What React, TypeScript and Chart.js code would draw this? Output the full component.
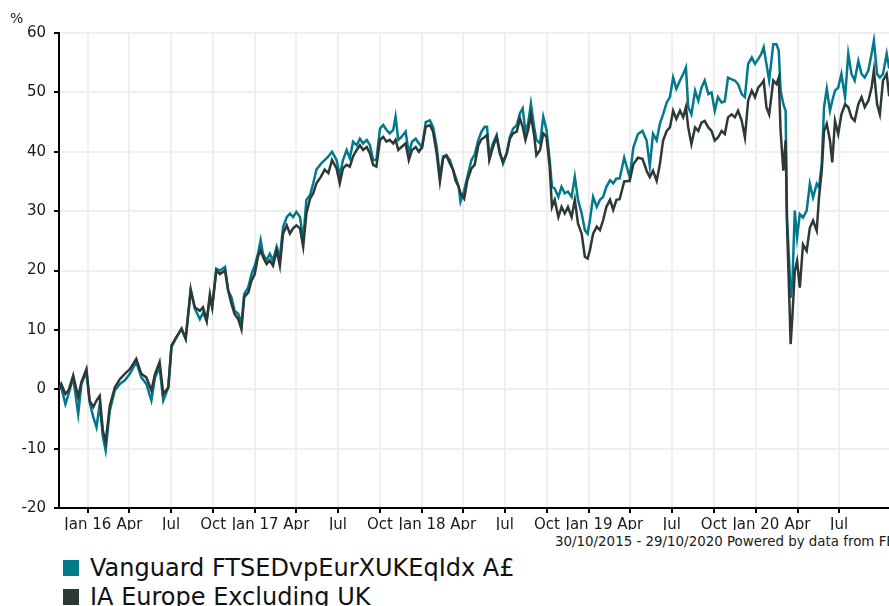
import React, { useEffect, useRef } from "react";
import { Chart, registerables } from "chart.js";

Chart.register(...registerables);

const START_DATE = "2015-10-30";
const END_DATE = "2020-10-29";
const dateRangeText = "30/10/2015 - 29/10/2020 Powered by data from FE";
const yUnit = "%";

const tickDates = [
  "2016-01-01", "2016-04-01", "2016-07-01", "2016-10-01",
  "2017-01-01", "2017-04-01", "2017-07-01", "2017-10-01",
  "2018-01-01", "2018-04-01", "2018-07-01", "2018-10-01",
  "2019-01-01", "2019-04-01", "2019-07-01", "2019-10-01",
  "2020-01-01", "2020-04-01", "2020-07-01",
];
const tickLabels = [
  "Jan 16", "Apr", "Jul", "Oct",
  "Jan 17", "Apr", "Jul", "Oct",
  "Jan 18", "Apr", "Jul", "Oct",
  "Jan 19", "Apr", "Jul", "Oct",
  "Jan 20", "Apr", "Jul",
];
const yMin = -20;
const yMax = 60;
const yStep = 10;

const seriesNames = ["Vanguard FTSEDvpEurXUKEqIdx A£", "IA Europe Excluding UK"];
const seriesColors = ["#00798b", "#2d3936"];

// days since 30/10/2015
const days = [
  0, 5, 14, 21, 31, 42, 49, 60, 67, 75, 82, 89, 96, 102, 111, 122, 133, 144, 155, 169,
  180, 191, 202, 210, 220, 228, 239, 246, 257, 268, 277, 288, 297, 308, 315, 323, 330, 335, 344, 352,
  363, 370, 377, 384, 392, 399, 405, 414, 421, 428, 435, 441, 446, 454, 461, 468, 476, 483, 490, 498,
  505, 512, 519, 527, 534, 541, 549, 556, 563, 573, 581, 589, 597, 607, 614, 621, 629, 636, 643, 651,
  658, 665, 673, 680, 687, 694, 702, 709, 716, 723, 731, 736, 742, 749, 758, 765, 772, 780, 787, 794,
  802, 811, 818, 826, 833, 840, 847, 855, 862, 867, 874, 878, 886, 893, 902, 909, 917, 924, 931, 936,
  941, 949, 957, 964, 971, 979, 986, 993, 1001, 1008, 1014, 1020, 1026, 1032, 1039, 1044, 1052, 1059, 1066, 1073,
  1078, 1084, 1092, 1099, 1106, 1113, 1121, 1128, 1135, 1143, 1150, 1156, 1161, 1168, 1176, 1183, 1190, 1197, 1205, 1212,
  1219, 1226, 1236, 1248, 1256, 1266, 1276, 1285, 1292, 1299, 1307, 1314, 1321, 1329, 1336, 1343, 1350, 1358, 1365, 1371,
  1376, 1383, 1391, 1398, 1405, 1412, 1420, 1427, 1434, 1441, 1449, 1456, 1463, 1471, 1478, 1485, 1493, 1500, 1507, 1515,
  1522, 1529, 1536, 1541, 1547, 1553, 1562, 1569, 1574, 1578, 1584, 1589, 1592, 1597, 1600, 1604, 1609, 1614, 1620, 1627,
  1635, 1642, 1649, 1657, 1662, 1668, 1673, 1679, 1686, 1691, 1697, 1704, 1711, 1719, 1726, 1733, 1740, 1748, 1755, 1762,
  1770, 1777, 1782, 1789, 1795, 1802, 1810, 1815, 1826,
];

const vanguard = [
  0, 0.3, -2.5, -0.8, 2, -4.2, 0.9, 2.9, -2.2, -4.7, -6.4, -2.5, -8, -10.3, -3.6, -0.2, 0.9, 1.5, 2.6, 4.6,
  2, 0.9, -1.9, 2, 3.7, -1.9, 0.3, 7.1, 8.8, 10.2, 8.5, 16.9, 13.6, 11.8, 12.9, 11.5, 15.5, 13.8, 20.3, 20,
  20.6, 16.6, 15.5, 13.2, 12.7, 11, 16, 17.2, 19.4, 20.8, 22.8, 25.1, 22.8, 21.7, 22.8, 21.7, 24, 22.3, 27.3, 29,
  29.6, 29, 29.9, 29, 25.1, 31.9, 32.7, 34.7, 37, 38, 38.6, 39.2, 40, 38.6, 36, 38.6, 40.3, 38.9, 41.7, 41.1,
  42.2, 41.4, 42, 41.1, 38.6, 38.6, 43.9, 44.5, 43.7, 43.1, 43.7, 45.9, 42, 42.5, 43.4, 39.7, 41.7, 42.2, 41.4, 40.8,
  45, 45.3, 44.2, 40.8, 35.8, 39.2, 39.4, 38.6, 36.9, 35.8, 34.1, 31.6, 33.5, 35.8, 38.6, 39.5, 42, 43.4, 44.2, 44.2,
  39.2, 41.4, 42.8, 40, 38, 39.7, 42.5, 43.9, 44.5, 46.5, 47.3, 43.4, 44.8, 48.1, 44.2, 42, 41.4, 45.9, 43.7, 38.6,
  34.1, 33.8, 32.4, 34.1, 33, 33.3, 32.4, 35.8, 31.9, 29.6, 26.8, 26.2, 28.5, 32.4, 30.7, 31.9, 32.4, 34.1, 35.2, 34.7,
  35.5, 35.5, 39, 35.7, 40.7, 43, 43.5, 41.9, 37.6, 43, 41.9, 44.7, 46.3, 48.3, 49.2, 52.5, 50.6, 52, 53.1, 54.2,
  47.5, 46.3, 50.3, 48.6, 50.8, 52, 49.7, 50, 46.9, 49.2, 48.3, 48.5, 52.5, 52.2, 52, 51.4, 49.7, 49.2, 54.8, 55.9,
  54.8, 55.6, 56.5, 57.6, 54.8, 52, 58.1, 58.1, 57, 50.3, 48, 46.9, 28.9, 21.1, 15.4, 18.3, 30.1, 25.6, 29.5, 28.9,
  30.1, 34.6, 32.3, 34.6, 34, 37.9, 47.5, 50.6, 46.9, 48.6, 50.3, 50.8, 53.1, 49.2, 56.5, 53.1, 52, 55.3, 53.1, 52.5,
  53.7, 56.5, 58.7, 53.1, 52.5, 53.1, 56.5, 54.2, 54,
];

const sector = [
  0, 0.9, -0.8, -0.2, 2.3, -1.3, 1.2, 3.4, -1.9, -3, -1.9, -1.1, -7, -8.9, -2.8, 0.3, 1.7, 2.6, 3.4, 5.1,
  2.6, 2, -0.2, 2.6, 4.6, -0.8, 0.3, 7.4, 8.8, 10.2, 8.5, 16.6, 13.8, 13.2, 13.8, 11.5, 16, 13.8, 20, 19.4,
  20, 16.6, 14.4, 12.7, 11.8, 10.1, 15.5, 16.3, 18.3, 19.4, 22.3, 23.4, 22.3, 21.1, 21.7, 20.8, 23.4, 20.8, 26.2, 27.6,
  26.2, 27.1, 27.6, 27.1, 24, 29.6, 32.1, 33, 34.7, 35.8, 37, 36.4, 38.6, 37.2, 34.7, 37.2, 37.8, 37.5, 39.2, 40.3,
  41.1, 40.3, 40.8, 39.7, 37.8, 37.5, 42, 42.5, 41.7, 42, 41.4, 42, 40.3, 40.8, 41.4, 38.6, 40.3, 40.8, 40, 40.8,
  44.2, 44.5, 43.4, 39.7, 35, 38.9, 39.4, 38, 36.9, 35.2, 34.1, 33, 32.1, 35.2, 37.2, 37.8, 41.1, 42.1, 42.5, 42.8,
  38.6, 40.8, 42.5, 39.7, 38.3, 39.7, 42.2, 43.1, 43.4, 45.6, 44.2, 42, 43.7, 46.2, 42.8, 39.4, 40.3, 43.1, 42.5, 37.5,
  30.7, 31.9, 29, 30.7, 29.6, 30.7, 29, 31.9, 27.9, 26.2, 22.3, 22, 23.4, 26.2, 27.4, 26.8, 28.5, 30.7, 31.9, 30.2,
  31.9, 32, 35, 35.1, 37.9, 39, 38.8, 36.8, 35.7, 36.8, 35.1, 37.9, 41.9, 43.5, 44.1, 46.9, 45.5, 46.9, 45.8, 47.5,
  44.1, 41.3, 44.1, 43.5, 44.9, 45.2, 44.1, 43.5, 41.9, 42.4, 43.5, 43, 45.8, 46.3, 45.8, 46.9, 45.2, 42.4, 48.6, 50.3,
  49.2, 50.8, 51.4, 52, 47.5, 46.3, 52, 51.4, 52.5, 43.5, 36.8, 41.9, 27.8, 15.4, 7.6, 12.6, 19.9, 21.6, 17.1, 24.4,
  23.3, 27.2, 28.4, 26.7, 32.3, 36.8, 43.5, 44.7, 41.9, 38.2, 45.2, 43, 46.3, 48, 47.5, 45.8, 45.2, 48, 49.2, 47.5,
  48.6, 50.8, 53.7, 48, 46.3, 52, 53.1, 49.7, 50.5,
];

const FONT = "'DejaVu Sans', Verdana, sans-serif";

const dayOf = (s: string) => (Date.parse(s) - Date.parse(START_DATE)) / 86400000;

export default function App() {
  const ref = useRef<HTMLCanvasElement>(null);

  useEffect(() => {
    if (!ref.current) return;
    const chart = new Chart(ref.current, {
      type: "line",
      data: {
        datasets: [
          {
            label: seriesNames[0],
            data: days.map((d, i) => ({ x: d, y: vanguard[i] })),
            borderColor: seriesColors[0],
            backgroundColor: seriesColors[0],
            borderWidth: 2.5,
            pointRadius: 0,
            tension: 0,
            order: 1,
          },
          {
            label: seriesNames[1],
            data: days.map((d, i) => ({ x: d, y: sector[i] })),
            borderColor: seriesColors[1],
            backgroundColor: seriesColors[1],
            borderWidth: 2.5,
            pointRadius: 0,
            tension: 0,
            order: 0,
          },
        ],
      },
      options: {
        responsive: false,
        animation: false,
        layout: { padding: { top: 33, left: 0, right: 0, bottom: 0 } },
        plugins: {
          legend: { display: false },
          tooltip: { enabled: false },
        },
        scales: {
          x: {
            type: "linear",
            min: 0,
            max: dayOf(END_DATE),
            afterBuildTicks: (s: any) => {
              s.ticks = tickDates.map((d) => ({ value: dayOf(d) }));
            },
            afterFit: (s: any) => {
              s.height = 22;
            },
            ticks: {
              autoSkip: false,
              maxRotation: 0,
              padding: 3,
              color: "#1a1a1a",
              font: { family: FONT, size: 15 },
              callback: (_v: any, i: number) => tickLabels[i],
            },
            grid: {
              color: "#efefef",
              lineWidth: 2,
              tickLength: 5,
              tickColor: "#000",
              tickWidth: 2,
            },
            border: { color: "#000", width: 2 },
          },
          y: {
            min: yMin,
            max: yMax,
            afterFit: (s: any) => {
              s.width = 59;
            },
            ticks: {
              stepSize: yStep,
              padding: 8,
              color: "#1a1a1a",
              font: { family: FONT, size: 15 },
            },
            grid: {
              color: "#efefef",
              lineWidth: 2,
              tickLength: 5,
              tickColor: "#000",
              tickWidth: 2,
            },
            border: { color: "#000", width: 2 },
          },
        },
      },
    });
    return () => chart.destroy();
  }, []);

  return (
    <div
      style={{
        position: "fixed",
        left: 0,
        top: 0,
        width: 889,
        height: 606,
        overflow: "hidden",
        background: "#fff",
        fontFamily: FONT,
        color: "#1a1a1a",
      }}
    >
      <canvas ref={ref} width={894} height={530} style={{ position: "absolute", left: 0, top: 0 }} />
      <div style={{ position: "absolute", left: 10, top: 11, fontSize: 14, lineHeight: "14px" }}>{yUnit}</div>
      <div
        style={{
          position: "absolute",
          left: 555,
          top: 535,
          fontSize: 13.4,
          lineHeight: "13px",
          whiteSpace: "nowrap",
        }}
      >
        {dateRangeText}
      </div>
      {seriesNames.map((name, i) => (
        <div key={name}>
          <div
            style={{
              position: "absolute",
              left: 63,
              top: 560 + i * 29,
              width: 16,
              height: 16,
              background: seriesColors[i],
            }}
          />
          <div
            style={{
              position: "absolute",
              left: 90,
              top: 556 + i * 29,
              fontSize: 24,
              lineHeight: "24px",
              whiteSpace: "nowrap",
              color: "#111",
            }}
          >
            {name}
          </div>
        </div>
      ))}
    </div>
  );
}
